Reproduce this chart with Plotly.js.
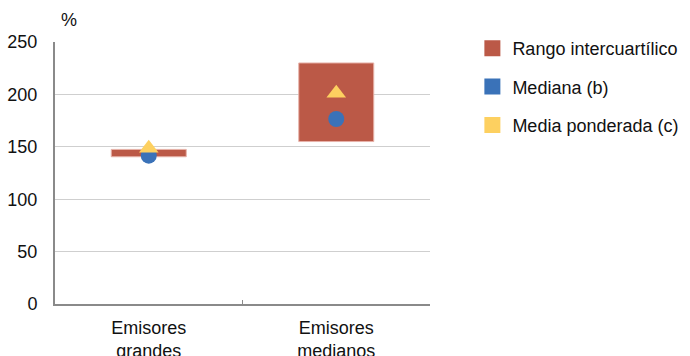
<!DOCTYPE html>
<html>
<head>
<meta charset="utf-8">
<script src="https://cdn.plot.ly/plotly-3.0.1.min.js"></script>
<style>html,body{margin:0;padding:0;background:#fff;}#chart{width:690px;height:356px;}</style>
</head>
<body>
<div id="chart"></div>
<script>
const categories = ["Emisores<br>grandes", "Emisores<br>medianos"];
const q1 = [140.5, 155];
const q3 = [147.5, 230];
const mediana = [141.5, 176.5];
const mediaPonderada = [148.5, 201];
const seriesNames = ["Rango intercuartílico", "Mediana (b)", "Media ponderada (c)"];
const yTicks = [0, 50, 100, 150, 200, 250];

const cRange = "#bb5947", cMed = "#3a72b8", cMean = "#fdd060";
const font = "Liberation Sans, Arial, sans-serif";

const traces = [
  {type: "bar", x: categories, base: q1, y: q3.map((v, i) => v - q1[i]), width: 0.4,
   marker: {color: cRange, line: {color: "#e7b2a9", width: 1}}, showlegend: false, hoverinfo: "skip"},
  {type: "scatter", mode: "markers", x: categories, y: mediana,
   marker: {color: cMed, size: 16, symbol: "circle"}, showlegend: false},
  {type: "scatter", mode: "markers", x: categories, y: mediaPonderada,
   marker: {color: cMean, size: 17, symbol: "triangle-up"}, showlegend: false},
];
[cRange, cMed, cMean].forEach((c, i) => {
  traces.push({type: "scatter", mode: "markers", x: [null], y: [null], name: seriesNames[i],
    legendgroup: "g" + i, marker: {color: c, size: 16, symbol: "square"}, showlegend: true});
});

const layout = {
  width: 690, height: 356,
  margin: {l: 55, r: 260, t: 42, b: 52, autoexpand: false},
  paper_bgcolor: "#fff", plot_bgcolor: "#fff",
  font: {family: font, size: 18, color: "#111"},
  showlegend: true,
  legend: {x: 1.113, xanchor: "left", y: 1.046, yanchor: "top", traceorder: "grouped",
           tracegroupgap: 12, font: {family: font, size: 18, color: "#111"}, bgcolor: "rgba(0,0,0,0)"},
  xaxis: {type: "category", showline: true, linecolor: "#8a8a8a", linewidth: 2,
          ticks: "inside", tickson: "boundaries", ticklen: 4, tickcolor: "#8a8a8a",
          showgrid: false, tickfont: {family: font, size: 18}, range: [-0.5, 1.5],
          ticklabelstandoff: 6},
  yaxis: {range: [0, 250], tickvals: yTicks, showline: true, linecolor: "#8a8a8a", linewidth: 2,
          gridcolor: "#cfcfcf", gridwidth: 1, ticks: "", ticklabelstandoff: 12,
          zeroline: false, tickfont: {family: font, size: 18}},
  annotations: [{text: "%", xref: "paper", yref: "paper", x: 0.038, y: 1.0, yshift: 22,
                 xanchor: "center", yanchor: "middle", showarrow: false,
                 font: {family: font, size: 18, color: "#111"}}],
  bargap: 0.6
};
Plotly.newPlot("chart", traces, layout, {displayModeBar: false, staticPlot: true});
</script>
</body>
</html>
